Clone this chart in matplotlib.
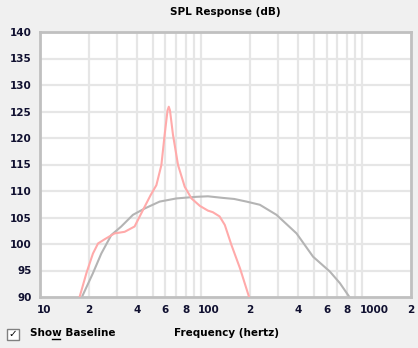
import matplotlib
matplotlib.use("Agg")
import matplotlib.pyplot as plt
import matplotlib.transforms as mtransforms
from matplotlib.patches import Rectangle
from matplotlib.lines import Line2D

# Data
pink_freq = [17.6, 19.4, 21.3, 22.9, 25.2, 29.0, 33.5, 38.6, 43.5, 48.5, 52.7, 56.6,
             59.3, 61.8, 62.9, 64.0, 66.8, 71.8, 79, 87, 98, 110, 118, 130, 140,
             154, 174, 198]
pink_db = [90, 94.5, 98.2, 100.1, 100.9, 102.0, 102.3, 103.3, 106.4, 109.2, 111.1, 114.9,
           120.6, 125.2, 125.9, 125.2, 120.6, 114.9, 110.8, 108.6, 107.2, 106.3, 106.0, 105.2, 103.6,
           99.8, 95.4, 90]

gray_freq = [18.2, 21.3, 24, 27.7, 31.9, 37.7, 44.6, 55.2, 70.2, 93, 110, 136, 160,
             191, 231, 293, 390, 494, 628, 725, 830]
gray_db = [90, 94.5, 98.2, 101.7, 103.3, 105.5, 106.7, 108.0, 108.6, 108.9, 109.0, 108.7, 108.5,
           108.0, 107.4, 105.5, 102.0, 97.6, 94.8, 92.6, 90]

xtick_vals = [10, 20, 40, 60, 80, 100, 200, 400, 600, 800, 1000, 2000]
xtick_labels = ["10", "2", "4", "6", "8", "100", "2", "4", "6", "8", "1000", "2"]
ytick_vals = [90, 95, 100, 105, 110, 115, 120, 125, 130, 135, 140]

W, H = 418, 348
fig = plt.figure(figsize=(W / 100, H / 100), dpi=100, facecolor="#f0f0f0")

def px(x, y):
    return (x / W, 1 - y / H)

l, t = px(40, 32)
r, b = px(411, 297)
ax = fig.add_axes([l, b, r - l, t - b])
ax.set_facecolor("white")
ax.set_xscale("log")
ax.set_xlim(10, 2000)
ax.set_ylim(90, 140)

# gridlines
grid_x = [v * d for d in (10, 100, 1000) for v in range(1, 10) if 10 < v * d < 2000]
for gx in grid_x:
    ax.axvline(gx, color="#e6e6e6", lw=1.6, zorder=0)
for gy in ytick_vals[1:-1]:
    ax.axhline(gy, color="#e6e6e6", lw=1.6, zorder=0)

ax.plot(gray_freq, gray_db, color="#b4b4b4", lw=1.5, zorder=2)
ax.plot(pink_freq, pink_db, color="#ffaaaa", lw=1.5, zorder=3)

for s in ax.spines.values():
    s.set_color("#c0c0c0")
    s.set_linewidth(2)

ax.set_xticks(xtick_vals)
ax.set_xticklabels(xtick_labels)
ax.xaxis.set_minor_locator(matplotlib.ticker.NullLocator())
ax.set_yticks(ytick_vals)
ax.tick_params(length=0, labelsize=7.5, labelcolor="#101030")
ax.tick_params(axis="x", pad=6)
ax.tick_params(axis="y", pad=6)
for lab in ax.get_xticklabels() + ax.get_yticklabels():
    lab.set_fontweight("bold")
shift = mtransforms.ScaledTranslation(-3 / 100, 0, fig.dpi_scale_trans)
for lab in ax.get_xticklabels():
    if len(lab.get_text()) > 1:
        lab.set_horizontalalignment("left")
        lab.set_transform(lab.get_transform() + shift)

fig.text(*px(225, 12), "SPL Response (dB)", ha="center", va="center",
         fontsize=7.5, fontweight="bold", color="black")
fig.text(*px(226, 333), "Frequency (hertz)", ha="center", va="center",
         fontsize=7.5, fontweight="bold", color="black")
fig.text(*px(30, 333), "Show Baseline", ha="left", va="center",
         fontsize=7.5, fontweight="bold", color="black")
# underline under the "w"
x0, y0 = px(52, 339)
x1, _ = px(60, 339)
fig.add_artist(Line2D([x0, x1], [y0, y0], color="black", lw=1.0, transform=fig.transFigure))

# checkbox
bx, by = px(7, 340)
fig.add_artist(Rectangle((bx, by), 12 / W, 11 / H, transform=fig.transFigure,
                         facecolor="white", edgecolor="#808080", lw=1.0))
fig.text(*px(13, 334.5), "\u2713", ha="center", va="center", fontsize=7.5,
         fontweight="bold", color="black")

fig.savefig("out.png", dpi=100, facecolor=fig.get_facecolor())
